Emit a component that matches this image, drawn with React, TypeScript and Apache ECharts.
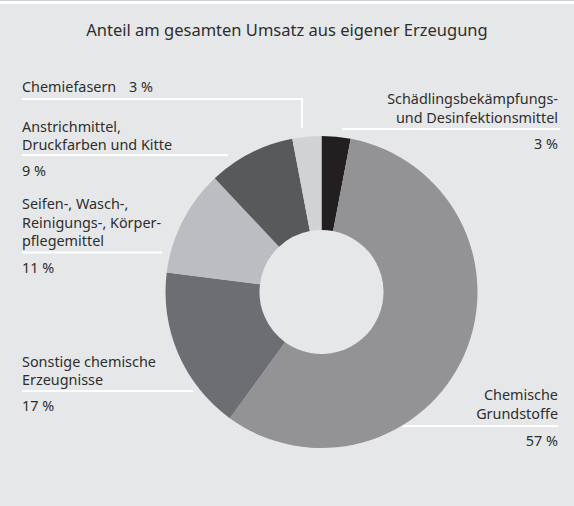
import React, { useEffect, useRef } from "react";
import * as echarts from "echarts";

const title = "Anteil am gesamten Umsatz aus eigener Erzeugung";
const categories = [
  "Schädlingsbekämpfungs-\nund Desinfektionsmittel",
  "Chemische\nGrundstoffe",
  "Sonstige chemische\nErzeugnisse",
  "Seifen-, Wasch-,\nReinigungs-, Körper-\npflegemittel",
  "Anstrichmittel,\nDruckfarben und Kitte",
  "Chemiefasern",
];
const shares = [3, 57, 17, 11, 9, 3];
const colors = ["#231f20", "#939396", "#6d6e71", "#bcbdc0", "#58595b", "#d1d2d4"];

// label placement (layout only)
const labelLayout = [
  { x: 558, align: "right", y0: 98.5, line: [342, 560, 129], pctY: 143 },
  { x: 558, align: "right", y0: 394.5, line: [402, 558, 426], pctY: 440.5 },
  { x: 22, align: "left", y0: 361, line: [22, 193, 391], pctY: 405.5 },
  { x: 22, align: "left", y0: 203.5, line: [22, 162, 252.5], pctY: 267 },
  { x: 22, align: "left", y0: 126, line: [22, 228, 155], pctY: 170.5 },
  { x: 22, align: "left", y0: 86.5, line: [22, 302, 99], pctInlineX: 129, drop: 128 },
];

const FONT = "'Noto Sans', sans-serif";
const TEXT = "#2e2e2e";
const LINE_GAP = 18.5;
const LABEL_SIZE = 14.4;

export default function App() {
  const ref = useRef<HTMLDivElement>(null);
  useEffect(() => {
    document.body.style.margin = "0";
    const chart = echarts.init(ref.current!, null, { renderer: "svg" });
    const graphics: any[] = [
      { type: "rect", shape: { x: 0, y: 0, width: 574, height: 506 }, style: { fill: "#e6e7e8" }, z: -10 },
      { type: "rect", shape: { x: 0, y: 0, width: 574, height: 1 }, style: { fill: "#cfd0d2" }, z: -9 },
      { type: "rect", shape: { x: 0, y: 1, width: 574, height: 3 }, style: { fill: "#ffffff" }, z: -9 },
      {
        type: "text",
        x: 287,
        y: 29,
        style: { text: title, fill: TEXT, font: `16.5px ${FONT}`, textAlign: "center", textVerticalAlign: "middle", align: "center", verticalAlign: "middle" },
      },
    ];
    categories.forEach((name, i) => {
      const L: any = labelLayout[i];
      const lines = name.split("\n");
      lines.forEach((ln, k) => {
        graphics.push({
          type: "text",
          x: L.x,
          y: L.y0 + k * LINE_GAP,
          style: { text: ln, fill: TEXT, font: `${LABEL_SIZE}px ${FONT}`, textAlign: L.align, textVerticalAlign: "middle", align: L.align, verticalAlign: "middle" },
        });
      });
      const pct = `${shares[i]} %`;
      if (L.pctInlineX !== undefined) {
        graphics.push({
          type: "text",
          x: L.pctInlineX,
          y: L.y0,
          style: { text: pct, fill: TEXT, font: `${LABEL_SIZE}px ${FONT}`, textAlign: "left", textVerticalAlign: "middle", align: "left", verticalAlign: "middle" },
        });
      } else {
        graphics.push({
          type: "text",
          x: L.x,
          y: L.pctY,
          style: { text: pct, fill: TEXT, font: `${LABEL_SIZE}px ${FONT}`, textAlign: L.align, textVerticalAlign: "middle", align: L.align, verticalAlign: "middle" },
        });
      }
      const pts: number[][] = [[L.line[0], L.line[2]], [L.line[1], L.line[2]]];
      if (L.drop !== undefined) pts.push([L.line[1], L.drop]);
      graphics.push({
        type: "polyline",
        shape: { points: pts },
        style: { stroke: "#ffffff", lineWidth: 2, fill: "none" },
        z: -5,
      });
    });

    chart.setOption({
      animation: false,
      graphic: { elements: graphics },
      series: [
        {
          type: "pie",
          center: [321.5, 292],
          radius: [62, 156],
          startAngle: 90,
          clockwise: true,
          silent: true,
          label: { show: false },
          labelLine: { show: false },
          itemStyle: { borderWidth: 0 },
          data: categories.map((c, i) => ({ name: c, value: shares[i], itemStyle: { color: colors[i] } })),
        },
      ],
    });
    return () => chart.dispose();
  }, []);
  return <div ref={ref} style={{ width: 574, height: 506 }} />;
}
